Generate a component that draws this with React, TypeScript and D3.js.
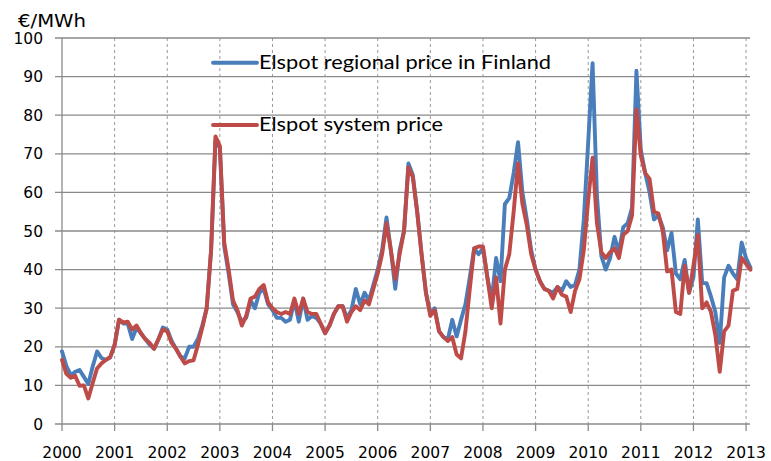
import React from "react";
import * as d3 from "d3";

const startYear = 2000;
const yearLabels = ["2000","2001","2002","2003","2004","2005","2006","2007","2008","2009","2010","2011","2012","2013"];
const yTicks = [0, 10, 20, 30, 40, 50, 60, 70, 80, 90, 100];

const seriesNames = ["Elspot regional price in Finland", "Elspot system price"];

// Monthly, Jan 2000 .. Feb 2013
const finland = [
  18.8, 15, 12.7, 13.5, 14, 12.2, 10.4, 14.9, 18.8, 17.1, 16.6, 17.3,
  20.5, 27, 26, 26, 22, 25, 23.5, 22, 20.5, 19.5, 22, 25,
  24.5, 21.5, 19.5, 17.5, 17, 20, 20, 22, 25.5, 30, 45, 73.5,
  71.5, 46, 39, 31, 29, 26.5, 27.5, 32, 30, 34, 35, 31,
  29.5, 27.5, 27.5, 26.5, 27, 32, 26.5, 32.5, 27, 28, 27.5, 26,
  23.5, 25.5, 28.5, 30.5, 30.5, 27.5, 29.5, 35, 31, 34, 32, 36,
  40, 45, 53.5, 45, 35, 45, 50, 67.5, 64.5, 55, 44, 34,
  28.5, 30, 24, 22.5, 22, 27, 22.7, 27, 31, 38, 45.5, 44,
  45.5, 38, 32, 43, 37, 57, 58.5, 65, 73, 60, 53, 45,
  40, 37, 35, 34.5, 34, 35.5, 34.5, 37, 35.5, 36, 40, 53,
  73, 93.5, 59, 43.5, 40, 43, 48.5, 44.5, 51, 52, 56, 91.5,
  71, 65, 60, 53, 54, 51, 45, 49.5, 39, 37.5, 42.5, 34,
  38, 53, 36.5, 36.5, 33, 29, 21, 38, 41, 39, 37.5, 47,
  43, 40.5,
];

const system = [
  16.6, 13, 12, 12.5, 9.9, 10, 6.6, 10.6, 14.4, 15.7, 16.6, 17.3,
  20.5, 27, 26.3, 26.5, 24.5, 25.5, 23.5, 22, 21, 19.5, 22, 24.5,
  24, 21, 19.5, 17.5, 15.7, 16.3, 16.5, 20.5, 25, 30, 45, 74.5,
  72, 47, 40, 32, 29.5, 25.5, 28, 32.5, 33, 35, 36, 31.5,
  30, 29, 28.5, 29, 28.5, 32.5, 28.5, 32.5, 29, 28.5, 28.5, 26,
  23.5, 25.5, 28.5, 30.5, 30.5, 26.5, 29, 30.5, 29.5, 32, 31, 35,
  39, 44, 52, 45, 37.5, 44, 50, 66.5, 64, 55, 44, 34,
  28, 29.5, 24, 22.5, 21.5, 22.5, 18, 17, 24, 35, 45.5, 46,
  46, 38, 30, 38, 26, 40, 44, 55, 67.5, 57, 51.5, 44,
  40, 37, 35, 34.5, 32.5, 35.5, 33.5, 33, 29, 34.5, 37.5, 45,
  58, 69, 52, 44.5, 43, 44.5, 45.5, 43, 49, 50, 54, 81.5,
  69.5, 65, 63.5, 55, 54.5, 50, 39.5, 40, 29, 28.5, 41, 34,
  41, 49, 30, 31.5, 29, 23, 13.5, 24, 25.5, 34.5, 35, 43,
  41.5, 40,
];

const W = 771, H = 461;
const left = 62, top = 38, bottom = 424;
const monthPx = 4.385;
const lastIdx = finland.length - 1;

export default function App() {
  const x = d3.scaleLinear().domain([0, lastIdx]).range([left, left + lastIdx * monthPx]);
  const y = d3.scaleLinear().domain([0, 100]).range([bottom, top]);
  const gridRight = 750;
  const line = d3.line<number>().x((_, i) => x(i)).y((d) => y(d));
  const blue = "#4A7EBB";
  const red = "#BE4B48";
  const grid = "#8a8a8a";
  const tickFont = "'DejaVu Sans', Verdana, sans-serif";
  const sw = 3.9;

  return (
    <svg width={W} height={H} style={{ position: "absolute", left: 0, top: 0, background: "#fff" }}>
      <rect width={W} height={H} fill="#fff" />
      {yearLabels.map((lab, k) => {
        const xi = x((+lab - startYear) * 12);
        return (
          <g key={lab}>
            {k > 0 && (
              <line x1={xi} x2={xi} y1={top} y2={bottom} stroke="#999" strokeWidth={1} strokeDasharray="3,3" />
            )}
            <line x1={xi} x2={xi} y1={bottom} y2={bottom + 7} stroke={grid} strokeWidth={1.3} />
            <text x={xi} y={458} textAnchor="middle" fontFamily={tickFont} fontSize={15.5} fill="#000">
              {lab}
            </text>
          </g>
        );
      })}
      {yTicks.map((t) => (
        <g key={t}>
          <line x1={left - 7} x2={gridRight} y1={y(t)} y2={y(t)} stroke={grid} strokeWidth={1.3} />
          <text x={43} y={y(t)} dy="0.36em" textAnchor="end" fontFamily={tickFont} fontSize={15.5} fill="#000">
            {t}
          </text>
        </g>
      ))}
      <line x1={left} x2={left} y1={top} y2={bottom} stroke={grid} strokeWidth={1.3} />
      <text x={18} y={26.5} fontFamily={tickFont} fontSize={17.5} fill="#000" textLength={68} lengthAdjust="spacingAndGlyphs">
        €/MWh
      </text>

      <path d={line(finland) || ""} fill="none" stroke={blue} strokeWidth={sw} strokeLinejoin="round" strokeLinecap="round" />
      <path d={line(system) || ""} fill="none" stroke={red} strokeWidth={sw} strokeLinejoin="round" strokeLinecap="round" />

      <line x1={213} x2={257} y1={62.7} y2={62.7} stroke={blue} strokeWidth={sw} strokeLinecap="round" />
      <text x={259} y={68.5} fontFamily="Lato, 'Open Sans', sans-serif" fontSize={18.5} fill="#000" textLength={292} lengthAdjust="spacingAndGlyphs">
        {seriesNames[0]}
      </text>
      <line x1={213} x2={257} y1={125} y2={125} stroke={red} strokeWidth={sw} strokeLinecap="round" />
      <text x={259} y={131} fontFamily="Lato, 'Open Sans', sans-serif" fontSize={18.5} fill="#000" textLength={184} lengthAdjust="spacingAndGlyphs">
        {seriesNames[1]}
      </text>
    </svg>
  );
}
